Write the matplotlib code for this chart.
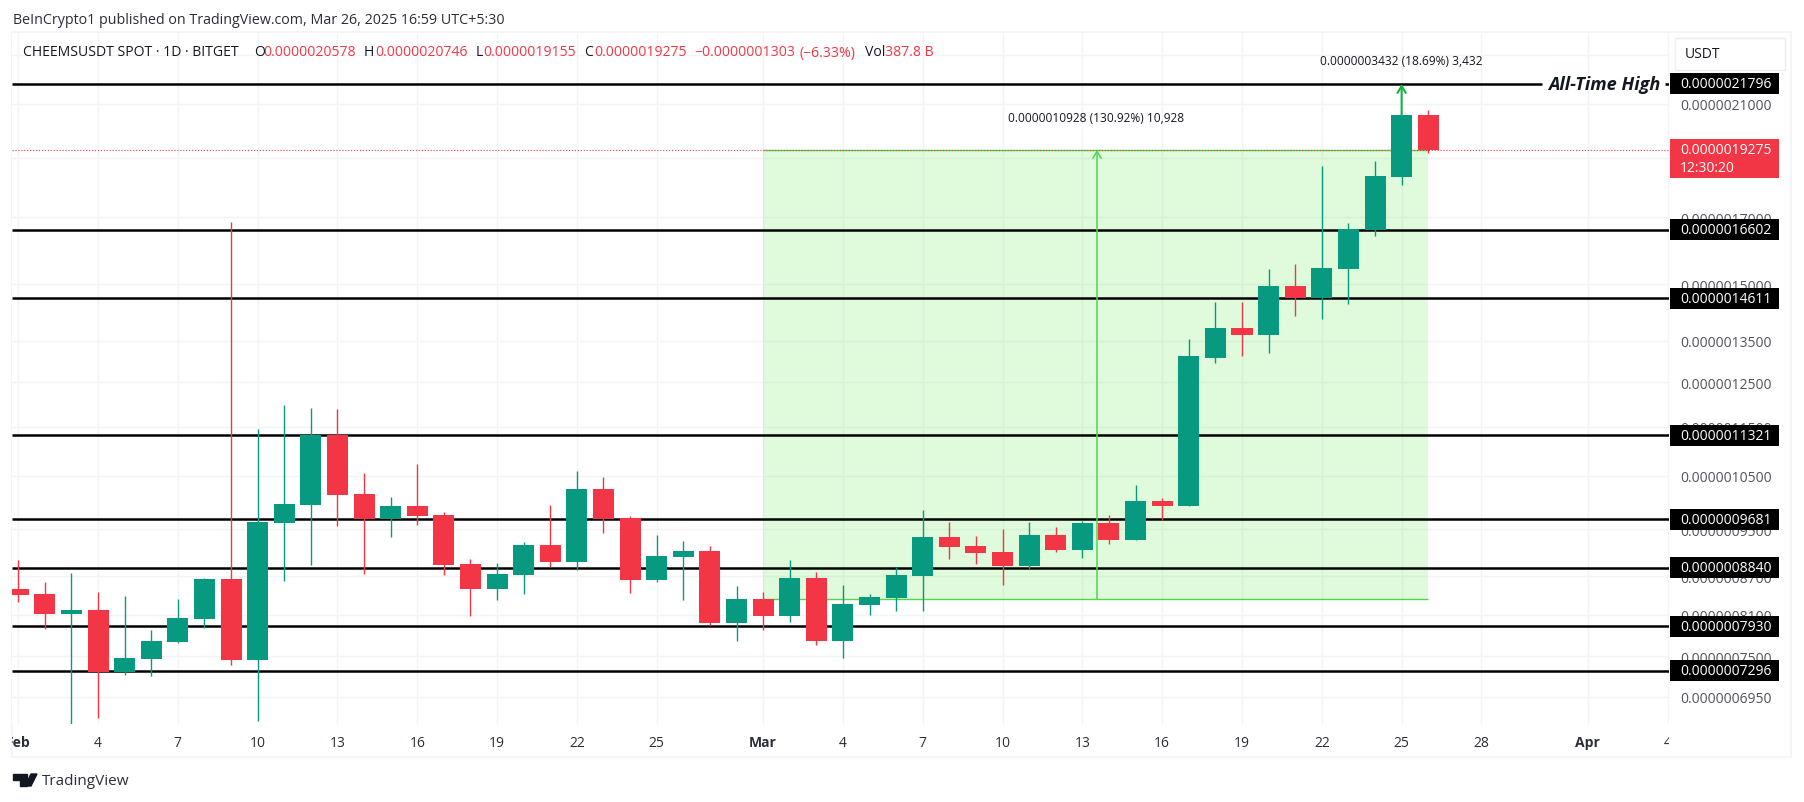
#!/usr/bin/python3

import numpy as np
import matplotlib.pyplot as plt
from matplotlib.patches import Rectangle, Polygon
from matplotlib.transforms import Bbox

plt.rcParams['font.family'] = ['Open Sans', 'DejaVu Sans']

unit = 1e-10         #all prices below are typed in units of 0.0000000001
w, h = 1804, 803     #size of the picture in pixels
px = 536.4           #pixels per unit of ln(price) on the scale of this chart

#open, high, low, close of each daily candle, first row is Feb 1
ohlc = np.array([
    [8499, 8972, 8297, 8411], [8421, 8609, 7889, 8110], [8110, 8757, 6560, 8173], [8173, 8452, 6680, 7282],
    [7282, 8390, 7241, 7474], [7460, 7875, 7227, 7714], [7700, 8344, 7685, 8050], [8035, 8675, 7904, 8658],
    [8658, 16848, 7378, 7446], [7446, 11455, 6641, 9629], [9612, 11979, 8625, 9960], [9941, 11912, 8890, 11328],
    [11328, 11890, 9559, 10129], [10147, 10552, 8741, 9682], [9682, 10091, 9366, 9923], [9923, 10731, 9576, 9735],
    [9752, 9810, 8724, 8890], [8906, 8989, 8079, 8499], [8499, 8923, 8328, 8741], [8724, 9278, 8421, 9225],
    [9225, 9941, 8856, 8939], [8939, 10592, 8807, 10241], [10241, 10472, 9436, 9682], [9700, 9735, 8437, 8642],
    [8642, 9401, 8609, 9038], [9022, 9295, 8328, 9121], [9121, 9207, 7948, 7977], [7977, 8546, 7714, 8344],
    [8344, 8452, 7875, 8079], [8079, 8972, 7991, 8675], [8675, 8774, 7656, 7714], [7714, 8561, 7474, 8266],
    [8250, 8421, 8095, 8375], [8359, 8856, 8157, 8724], [8708, 9848, 8157, 9366], [9366, 9629, 8989, 9190],
    [9207, 9383, 8906, 9086], [9104, 9506, 8561, 8873], [8873, 9629, 8823, 9401], [9401, 9541, 9104, 9142],
    [9142, 9647, 9005, 9612], [9612, 9752, 9243, 9313], [9313, 10316, 9313, 10016], [10016, 10072, 9664, 9923],
    [9923, 13539, 9923, 13115], [13075, 14516, 12955, 13828], [13828, 14516, 13123, 13650], [13650, 15438, 13195, 14950],
    [14950, 15582, 14140, 14624], [14624, 18706, 14058, 15467], [15438, 16817, 14462, 16632], [16602, 18880, 16417, 18358],
    [18323, 20578, 18045, 20578], [20578, 20746, 19155, 19275]]) * unit

days = np.arange(len(ohlc))
levels = np.array([16602, 14611, 11321, 9681, 8840, 7930, 7296]) * unit  #hand drawn support lines
ath = 21796 * unit
last = 19275 * unit
green, red = '#089981', '#F23645'

price_ticks = np.array([23000, 21000, 19000, 17000, 15000, 13500, 12500, 11500, 10500, 9500, 8700, 8100, 7500, 6950]) * unit
day_ticks = [0, 3, 6, 9, 12, 15, 18, 21, 24, 28, 31, 34, 37, 40, 43, 46, 49, 52, 55, 59, 62]
day_names = ['Feb', '4', '7', '10', '13', '16', '19', '22', '25', 'Mar', '4', '7', '10', '13', '16', '19', '22', '25', '28', 'Apr', '4']


def figText(x, y, s, **kw):
    #place a text by its pixel position, counted from the top left
    return plt.figtext(x/w, 1 - y/h, s, va='center', **kw)

def priceTag(price, color='black', up=10.5, down=10.5):
    #box on the price scale, up and down are in pixels from the price
    tr = plt.gca().get_yaxis_transform()
    lo, hi = price*np.exp(-down/px), price*np.exp(up/px)
    plt.gca().add_patch(Rectangle((1.0006, lo), 0.0657, hi - lo, transform=tr, facecolor=color, edgecolor='none', clip_on=False, zorder=6))
    plt.text(1.0066, price, '%.10f' % price, color='white', fontsize=10, va='center', zorder=7, transform=tr)


fig = plt.figure(figsize=(w/100, h/100), dpi=100)
fig.add_artist(Rectangle((12/w, 1 - 758/h), 1779/w, 725/h, transform=fig.transFigure, facecolor='white', edgecolor='#f1f3f6', lw=1.2, zorder=-1))

ax = plt.axes([12/w, 1 - 725/h, 1657/w, 691/h])
plt.yscale('log')
plt.xlim(-0.233, 62.05)
plt.ylim(6607*unit, 23970*unit)

ax.set_axisbelow(True)
for s in ax.spines.values():
    s.set_visible(False)
plt.grid(color='#f3f4f6', lw=1.0)

plt.xticks(day_ticks, day_names, fontsize=10, color='#2a2e39')
plt.yticks(price_ticks, ['%.10f' % p for p in price_ticks], fontsize=10, color='#50535e')
plt.minorticks_off()
ax.yaxis.tick_right()
ax.tick_params(axis='both', which='both', length=0)
ax.tick_params(axis='x', pad=8)
ax.tick_params(axis='y', pad=8)
for t in ax.get_xticklabels():
    t.set_clip_box(Bbox([[12, 0], [1669, h]]))  #the Feb and the last 4 get cut at the edges
    t.set_clip_on(True)
    if t.get_text() in ('Feb', 'Mar', 'Apr'):
        t.set_fontweight('bold')

#long position box
plt.fill_between([28, 53], 8338*unit, last, color='#5FEB50', alpha=0.2, lw=0, zorder=1)
plt.hlines([8338*unit, last], 28, 53, color='#4fd64f', lw=1.0, zorder=1.5)

#support lines
plt.hlines(levels, -0.233, 62.05, color='black', lw=1.8, zorder=2)
plt.hlines(ath, -0.233, 57.28, color='black', lw=1.8, zorder=2)
plt.hlines(ath, 61.9, 62.05, color='black', lw=1.8, zorder=2)

#candles
up = ohlc[:, 3] >= ohlc[:, 0]
colors = [green if u else red for u in up]
plt.vlines(days, ohlc[:, 2], ohlc[:, 1], color=colors, lw=1.0, zorder=3)
plt.bar(days, np.abs(ohlc[:, 3] - ohlc[:, 0]), bottom=np.minimum(ohlc[:, 0], ohlc[:, 3]), width=0.79, color=colors, zorder=3.5)

plt.axhline(last, color=red, ls=':', lw=0.8, zorder=2.5)

#the two measure arrows
plt.annotate('', xy=(40.55, last), xytext=(40.55, 8338*unit), zorder=4,
             arrowprops=dict(arrowstyle='->,head_length=0.5,head_width=0.3', color='#4fd64f', lw=1.1, shrinkA=0, shrinkB=0))
plt.annotate('', xy=(52, ath), xytext=(52, 20578*unit), zorder=4,
             arrowprops=dict(arrowstyle='->,head_length=0.5,head_width=0.3', color='#14b143', lw=1.5, shrinkA=0, shrinkB=0))
plt.text(40.5, last*1.062, '0.0000010928 (130.92%) 10,928', ha='center', va='center', fontsize=8.6, color='#131722')
plt.text(52, ath*1.045, '0.0000003432 (18.69%) 3,432', ha='center', va='center', fontsize=8.6, color='#131722')

plt.text(57.5, ath, 'All-Time High', fontsize=13.1, fontweight='bold', style='italic', va='center', ha='left', color='#131722', zorder=5)

#tags over the price scale
for lv in levels:
    priceTag(lv)
priceTag(ath)
priceTag(last, red, up=10.7, down=28.3)
plt.text(1.0066, last*np.exp(-18/px), '12:30:20', color='white', fontsize=10, va='center', zorder=7, transform=ax.get_yaxis_transform())

fig.add_artist(Rectangle((1675/w, 1 - 71/h), 110/w, 32/h, transform=fig.transFigure, facecolor='white', edgecolor='#eceef2', lw=1.0, zorder=7))
figText(1685, 55, 'USDT', fontsize=10, color='#131722', zorder=8)

#header texts
figText(13, 21, 'BeInCrypto1 published on TradingView.com, Mar 26, 2025 16:59 UTC+5:30', fontsize=10.3, color='#2a2e39')
figText(23, 53, 'CHEEMSUSDT SPOT · 1D · BITGET', fontsize=10.1, color='#131722')
for x, s in [(254, 'O'), (364, 'H'), (476, 'L'), (584, 'C'), (865, 'Vol')]:
    figText(x, 53, s, fontsize=10.1, color='#131722')
for x, s in [(263, '0.0000020578'), (375, '0.0000020746'), (483, '0.0000019155'), (594, '0.0000019275'),
             (694, '−0.0000001303'), (800, '(−6.33%)'), (885, '387.8 B')]:
    figText(x, 53, s, fontsize=10.1, color=red)

#logo and name at the bottom
fig.add_artist(Polygon([(13/w, 1 - 775/h), (27/w, 1 - 775/h), (27/w, 1 - 787/h), (20/w, 1 - 787/h), (20/w, 1 - 781/h), (13/w, 1 - 781/h)], transform=fig.transFigure, color='#131722'))
fig.add_artist(Polygon([(31/w, 1 - 775/h), (37/w, 1 - 775/h), (31/w, 1 - 787/h), (25/w, 1 - 787/h)], transform=fig.transFigure, color='#131722'))
figText(42, 782, 'TradingView', fontsize=11, color='#2a2e39')

plt.savefig('out.png', dpi=100)
